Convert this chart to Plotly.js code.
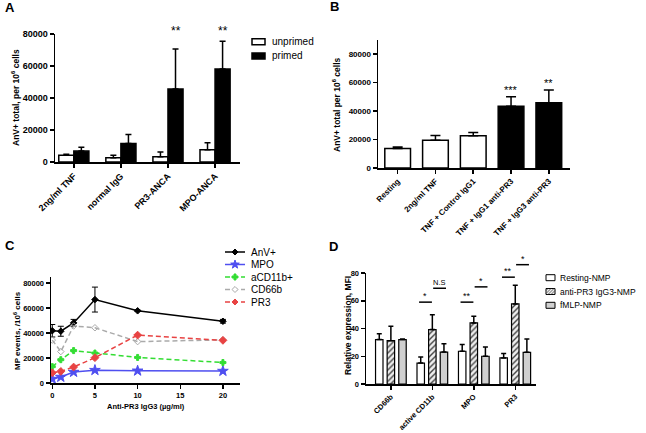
<!DOCTYPE html>
<html><head><meta charset="utf-8">
<script src="https://cdn.plot.ly/plotly-3.0.1.min.js"></script>
<style>html,body{margin:0;padding:0;background:#fff}</style>
</head><body><div id="chart" style="width:646px;height:433px"></div>
<script>
// ---------- Panel A data ----------
const aCategories = ['2ng/ml TNF', 'normal IgG', 'PR3-ANCA', 'MPO-ANCA'];
const aUnprimed = [4200, 2700, 3300, 7700];
const aUnprimedErr = [600, 1500, 3000, 4400];
const aPrimed = [6800, 11500, 45600, 58200];
const aPrimedErr = [2400, 5700, 25000, 17200];
const aStars = ['', '', '**', '**'];
const aSeries = ['unprimed', 'primed'];
const aYTicks = [0, 20000, 40000, 60000, 80000];
// ---------- Panel B data ----------
const bCategories = ['Resting', '2ng/ml TNF', 'TNF + Control IgG1', 'TNF + IgG1 anti-PR3', 'TNF + IgG3 anti-PR3'];
const bValues = [13650, 19500, 22600, 43500, 45900];
const bErr = [1150, 3300, 2300, 6600, 8900];
const bStars = ['', '', '', '***', '**'];
const bYTicks = [0, 20000, 40000, 60000, 80000];
// ---------- Panel C data ----------
const cDose = [0, 1, 2.5, 5, 10, 20];
const cSeries = ['AnV+', 'MPO', 'aCD11b+', 'CD66b', 'PR3'];
const cAnV = [41900, 41500, 48200, 66900, 57900, 49500];
const cAnVErr = [5000, 4000, 2800, 10000, 600, 1500];
const cMPO = [3200, 4800, 8800, 10300, 9800, 9600];
const cCD11b = [13100, 18700, 26000, 24000, 20500, 16400];
const cCD66b = [34400, 25200, 45700, 44300, 33200, 34600];
const cPR3 = [8200, 9300, 12800, 20300, 38400, 34200];
const cXTicks = [0, 5, 10, 15, 20];
const cYTicks = [0, 20000, 40000, 60000, 80000];
// ---------- Panel D data ----------
const dCategories = ['CD66b', 'active CD11b', 'MPO', 'PR3'];
const dSeries = ['Resting-NMP', 'anti-PR3 IgG3-NMP', 'fMLP-NMP'];
const dResting = [32, 15.1, 23.6, 18.8];
const dRestingErr = [4.3, 4.4, 4.8, 3.1];
const dAnti = [31.2, 39.2, 44, 57.7];
const dAntiErr = [10.4, 10.8, 4.8, 13.5];
const dFMLP = [32, 23, 20, 22.8];
const dFMLPErr = [0.5, 6, 6.7, 9.7];
const dYTicks = [0, 20, 40, 60, 80];
// significance comparisons: group index, pair (0 = resting vs anti, 1 = anti vs fMLP), bracket level, label
const dSigGroup = [1, 1, 2, 2, 3, 3];
const dSigPair = [0, 1, 0, 1, 0, 1];
const dSigLevel = [59, 69, 59, 70, 77, 86];
const dSigText = ['*', 'N.S', '**', '*', '**', '*'];

// ---------- geometry ----------
const W = 646, H = 433;
const FONT = 'Liberation Sans, Arial, sans-serif';
const px = v => v / W;
const py = v => 1 - v / H;
const geo = {
  A: {x0: 55, x1: 240, yb: 162, yt: 34},
  B: {x0: 378, x1: 570, yb: 168, yt: 40},
  C: {x0: 51, x1: 240, yb: 383, yt: 277},
  D: {x0: 366, x1: 536, yb: 384, yt: 273}
};
const rng = {
  A: {x: [-0.4, 3.53], y: [0, 80000]},
  B: {x: [-0.52, 4.56], y: [0, 90000]},
  C: {x: [-0.15, 22], y: [0, 85000]},
  D: {x: [-0.6, 3.5], y: [0, 80]}
};
function xPix(p, v) { const g = geo[p], r = rng[p].x; return g.x0 + (v - r[0]) / (r[1] - r[0]) * (g.x1 - g.x0); }
function yPix(p, v) { const g = geo[p], r = rng[p].y; return g.yb - (v - r[0]) / (r[1] - r[0]) * (g.yb - g.yt); }
const zeros = n => new Array(n).fill(0);
function errUp(arr, w) { return {type: 'data', array: arr, arrayminus: zeros(arr.length), symmetric: false, color: '#000', thickness: 1.5, width: w}; }
const bold = (s) => ({family: FONT, size: s, color: '#000', weight: 'bold'});
const reg = (s, c) => ({family: FONT, size: s, color: c || '#000'});
function xAx(p, extra) {
  return Object.assign({
    domain: [px(geo[p].x0), px(geo[p].x1)], range: rng[p].x,
    showline: true, linecolor: '#000', linewidth: 1.5, ticks: 'outside', ticklen: 4, tickwidth: 1.5, tickcolor: '#000',
    showgrid: false, zeroline: false, automargin: false, fixedrange: true, tickfont: bold(9)
  }, extra);
}
function yAx(p, extra) {
  return Object.assign({
    domain: [py(geo[p].yb), py(geo[p].yt)], range: rng[p].y,
    showline: true, linecolor: '#000', linewidth: 1.5, ticks: 'outside', ticklen: 4, tickwidth: 1.5, tickcolor: '#000',
    showgrid: false, zeroline: false, automargin: false, fixedrange: true, tickformat: 'd', tickmode: 'array', tickfont: bold(9)
  }, extra);
}

// ---------- traces ----------
const traces = [];
traces.push({type: 'bar', name: aSeries[0], x: aCategories, y: aUnprimed, xaxis: 'x', yaxis: 'y',
  width: 0.32, offset: -0.32, marker: {color: '#fff', line: {color: '#000', width: 1.5}}, error_y: errUp(aUnprimedErr, 3), showlegend: false});
traces.push({type: 'bar', name: aSeries[1], x: aCategories, y: aPrimed, xaxis: 'x', yaxis: 'y',
  width: 0.32, offset: 0, marker: {color: '#000', line: {color: '#000', width: 1.5}}, error_y: errUp(aPrimedErr, 3), showlegend: false});
traces.push({type: 'bar', name: 'B', x: bCategories, y: bValues, xaxis: 'x2', yaxis: 'y2', width: 0.68, offset: -0.34,
  marker: {color: bCategories.map(c => c.indexOf('anti-PR3') >= 0 ? '#000' : '#fff'), line: {color: '#000', width: 1.5}},
  error_y: errUp(bErr, 5), showlegend: false});
const cStyles = [
  {color: '#000000', dash: 'solid', symbol: 'diamond', size: 5, y: cAnV, err: cAnVErr},
  {color: '#4f4ff0', dash: 'solid', symbol: 'star', size: 8, y: cMPO},
  {color: '#33dd33', dash: '5px,3px', symbol: 'cross', size: 5, y: cCD11b},
  {color: '#aaaaaa', dash: '5px,3px', symbol: 'diamond-open', size: 5, y: cCD66b},
  {color: '#e84343', dash: '5px,3px', symbol: 'diamond', size: 6, y: cPR3}
];
cStyles.forEach((s, i) => {
  const t = {type: 'scatter', mode: 'lines+markers', name: cSeries[i], x: cDose, y: s.y, xaxis: 'x3', yaxis: 'y3',
    line: {color: s.color, width: 1.5, dash: s.dash}, marker: {symbol: s.symbol, size: s.size, color: s.color, line: {color: s.color, width: 1}}, showlegend: false};
  if (s.err) t.error_y = {type: 'data', array: s.err, color: s.color, thickness: 1, width: 3};
  traces.push(t);
});
const dStyles = [
  {y: dResting, e: dRestingErr, marker: {color: '#fff', line: {color: '#000', width: 1.2}}},
  {y: dAnti, e: dAntiErr, marker: {color: '#eeeeee', line: {color: '#000', width: 1.2}, pattern: {shape: '/', size: 4, solidity: 0.35, fgcolor: '#444', bgcolor: '#eeeeee'}}},
  {y: dFMLP, e: dFMLPErr, marker: {color: '#d0d0d0', line: {color: '#000', width: 1.2}}}
];
const dWidth = 0.18, dPitch = 0.28;
dStyles.forEach((s, i) => {
  traces.push({type: 'bar', name: dSeries[i], x: dCategories, y: s.y, xaxis: 'x4', yaxis: 'y4',
    width: dWidth, offset: (i - 1) * dPitch - dWidth / 2, marker: s.marker, error_y: errUp(s.e, 2.5), showlegend: false});
});

// ---------- shapes & annotations ----------
const shapes = [], annotations = [];
function rectPx(x0, y0, x1, y1, fill, lw) {
  shapes.push({type: 'rect', xref: 'paper', yref: 'paper', x0: px(x0), x1: px(x1), y0: py(y1), y1: py(y0), fillcolor: fill, line: {color: '#000', width: lw}, layer: 'above'});
}
function linePx(x0, y0, x1, y1, color, w, dash) {
  shapes.push({type: 'line', xref: 'paper', yref: 'paper', x0: px(x0), x1: px(x1), y0: py(y0), y1: py(y1), line: {color: color, width: w, dash: dash || 'solid'}, layer: 'above'});
}
function polyPx(pts, fill, color) {
  const d = pts.map((p, i) => (i ? 'L' : 'M') + px(p[0]).toFixed(5) + ',' + py(p[1]).toFixed(5)).join('') + 'Z';
  shapes.push({type: 'path', xref: 'paper', yref: 'paper', path: d, fillcolor: fill, line: {color: color, width: 1}, layer: 'above'});
}
function markerPx(sym, x, y, color) {
  if (sym === 'star') {
    const pts = [];
    for (let k = 0; k < 10; k++) { const a = -Math.PI / 2 + k * Math.PI / 5, rr = k % 2 ? 1.8 : 4.5; pts.push([x + rr * Math.cos(a), y + rr * Math.sin(a)]); }
    polyPx(pts, color, color);
  } else if (sym === 'cross') {
    polyPx([[x - 1, y - 3], [x + 1, y - 3], [x + 1, y - 1], [x + 3, y - 1], [x + 3, y + 1], [x + 1, y + 1], [x + 1, y + 3], [x - 1, y + 3], [x - 1, y + 1], [x - 3, y + 1], [x - 3, y - 1], [x - 1, y - 1]], color, color);
  } else {
    polyPx([[x, y - 3], [x + 3, y], [x, y + 3], [x - 3, y]], sym === 'diamond-open' ? '#fff' : color, color);
  }
}
function textPx(text, x, y, opts) {
  annotations.push(Object.assign({text: text, xref: 'paper', yref: 'paper', x: px(x), y: py(y), showarrow: false,
    xanchor: 'center', yanchor: 'middle', font: reg(10)}, opts || {}));
}

textPx('A', 10, 8, {font: bold(13)});
textPx('B', 334, 7, {font: bold(13)});
textPx('C', 10, 245, {font: bold(13)});
textPx('D', 333, 247, {font: bold(13)});
textPx('AnV+ total, per 10<sup>6</sup> cells', 15, 98, {textangle: -90, font: bold(8.5)});
textPx('AnV+ total per 10<sup>6</sup> cells', 336, 105, {textangle: -90, font: bold(8.5)});
textPx('MP events, /10<sup>6</sup> cells', 17, 331, {textangle: -90, font: bold(8)});
textPx('Relative expression, MFI', 348, 326, {textangle: -90, font: bold(8.5)});
textPx('Anti-PR3 IgG3 (µg/ml)', 146, 406, {font: bold(7.5)});
aStars.forEach((s, i) => { if (s) textPx(s, xPix('A', i + 0.16), yPix('A', 80000) - 3, {font: reg(12)}); });
bStars.forEach((s, i) => { if (s) textPx(s, xPix('B', i), yPix('B', bValues[i] + bErr[i]) - 7, {font: reg(11)}); });
aSeries.forEach((name, i) => {
  const r = 41.7 + i * 14.3;
  rectPx(252, r - 3, 265, r + 3, i === 0 ? '#fff' : '#000', 1.5);
  textPx(name, 270, r, {xanchor: 'left', font: reg(10)});
});
cSeries.forEach((name, i) => {
  const r = 252 + i * 12.5;
  linePx(225, r, 245, r, cStyles[i].color, 1.5, cStyles[i].dash);
  markerPx(cStyles[i].symbol, 235, r, cStyles[i].color);
  textPx(name, 249, r, {xanchor: 'left', font: reg(10)});
});
dSeries.forEach((name, i) => {
  const r = 277.7 + i * 13.8;
  rectPx(546, r - 3, 555, r + 3, i === 0 ? '#fff' : (i === 1 ? '#eeeeee' : '#d0d0d0'), 1);
  if (i === 1) {
    for (let k = -4; k <= 8; k += 3) {
      const xa = Math.max(546, 546 + k), xb = Math.min(555, 546 + k + 6);
      if (xb > xa) linePx(xa, r + 3 - (xa - 546 - k), xb, r + 3 - (xb - 546 - k), '#444', 0.8);
    }
  }
  textPx(name, 558, r, {xanchor: 'left', font: reg(8.5)});
});
dSigGroup.forEach((g, k) => {
  const x0 = g + (dSigPair[k] === 0 ? -0.32 : 0.02);
  const x1 = g + (dSigPair[k] === 0 ? -0.01 : 0.33);
  const yp = yPix('D', dSigLevel[k]);
  linePx(xPix('D', x0), yp, xPix('D', x1), yp, '#000', 1.5);
  textPx(dSigText[k], (xPix('D', x0) + xPix('D', x1)) / 2, yp - 6, {font: reg(dSigText[k] === 'N.S' ? 7.5 : 9)});
});

const layout = {
  width: W, height: H, margin: {l: 0, r: 0, t: 0, b: 0}, paper_bgcolor: '#fff', plot_bgcolor: '#fff',
  barmode: 'overlay', showlegend: false, shapes: shapes, annotations: annotations,
  xaxis: xAx('A', {anchor: 'y', type: 'category', tickangle: -45, tickfont: bold(9)}),
  yaxis: yAx('A', {anchor: 'x', tickvals: aYTicks, tickfont: bold(9)}),
  xaxis2: xAx('B', {anchor: 'y2', type: 'category', tickangle: -45, tickfont: bold(8)}),
  yaxis2: yAx('B', {anchor: 'x2', tickvals: bYTicks, tickfont: bold(8)}),
  xaxis3: xAx('C', {anchor: 'y3', tickmode: 'array', tickvals: cXTicks, tickfont: bold(7.5)}),
  yaxis3: yAx('C', {anchor: 'x3', tickvals: cYTicks, tickfont: bold(7.5)}),
  xaxis4: xAx('D', {anchor: 'y4', type: 'category', tickangle: -45, tickfont: bold(7.5)}),
  yaxis4: yAx('D', {anchor: 'x4', tickvals: dYTicks, tickfont: bold(7.5)})
};
Plotly.newPlot('chart', traces, layout, {staticPlot: true, displayModeBar: false});
</script></body></html>
